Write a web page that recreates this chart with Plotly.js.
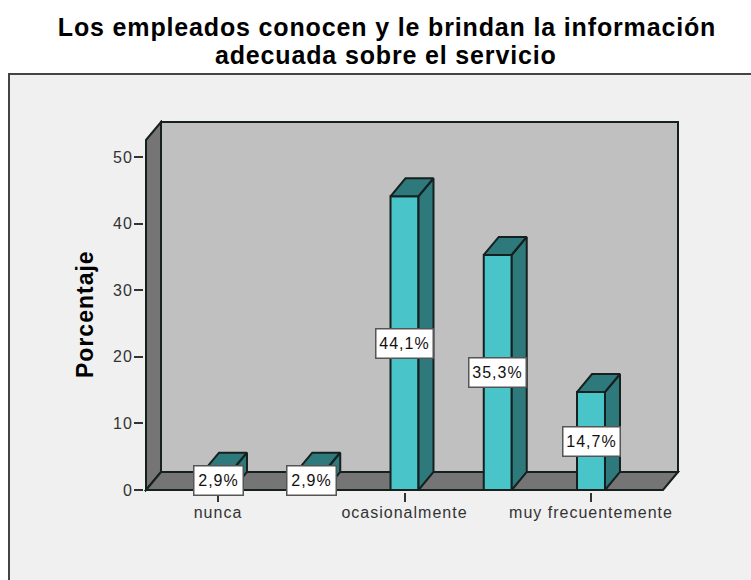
<!DOCTYPE html>
<html><head><meta charset="utf-8">
<script src="https://cdn.plot.ly/plotly-3.0.1.min.js"></script>
<style>html,body{margin:0;padding:0;background:#fff;overflow:hidden}
.xtick text,.ytick text,.annotation text{letter-spacing:1px}
.gtitle,.annotation[data-index="5"] text{letter-spacing:.85px}
</style>
</head><body><div id="chart" style="width:751px;height:580px"></div>
<script>
var categories = [1, 2, 3, 4, 5];
var percentages = [2.9, 2.9, 44.1, 35.3, 14.7];
var barLabels = ["2,9%", "2,9%", "44,1%", "35,3%", "14,7%"];
var tickPositions = [1, 3, 5];
var tickLabels = ["nunca", "ocasionalmente", "muy frecuentemente"];
var yTicks = [0, 10, 20, 30, 40, 50];
var titleLines = ["Los empleados conocen y le brindan la información", "adecuada sobre el servicio"];
var yTitle = "Porcentaje";

var pxPerCat = 93.25, pxPerPct = 6.66, x1Px = 218, y0Px = 490;
var L = 144, R = 680, T = 120, B = 492, W = 751, H = 580;
function X(px){ return 1 + (px - x1Px) / pxPerCat; }
function Y(px){ return (y0Px - px) / pxPerPct; }
function PX(px){ return (px - L) / (R - L); }
function PY(px){ return (B - px) / (B - T); }
function path(pts){
  return pts.map(function(p,i){ return (i ? "L" : "M") + X(p[0]) + "," + Y(p[1]); }).join(" ") + " Z";
}
var barW = 0.3, dX = 15 / pxPerCat, dY = 18 / pxPerPct;
var edge = "#15201f", sideCol = "#2e797b", frontCol = "#49c4c9";
var sans = "Liberation Sans, Arial, sans-serif";

var sx = [], sy = [];
categories.forEach(function(c, i){
  var v = percentages[i], r = c + barW / 2, l = c - barW / 2;
  sx.push(r, r + dX, r + dX, r, r, null);
  sy.push(0, dY, v + dY, v, 0, null);
  sx.push(l, l + dX, r + dX, r, l, null);
  sy.push(v, v + dY, v + dY, v, v, null);
});

var traces = [
  { type: "bar", x: categories, y: percentages, width: barW,
    marker: { color: frontCol, line: { color: edge, width: 2 } }, hoverinfo: "skip" },
  { type: "scatter", mode: "lines", x: sx, y: sy, fill: "toself", fillcolor: sideCol,
    line: { color: edge, width: 2 }, hoverinfo: "skip" }
];

var annotations = categories.map(function(c, i){
  return { x: c, y: percentages[i] / 2, xref: "x", yref: "y", text: barLabels[i], showarrow: false,
    xanchor: "center", yanchor: "middle", align: "center", valign: "middle",
    width: 8 * barLabels[i].length + 12, height: 24,
    bgcolor: "#ffffff", bordercolor: "#555555", borderwidth: 1.5, borderpad: 2,
    font: { family: sans, size: 16, color: "#111" } };
});
annotations.push({ xref: "paper", yref: "paper", x: PX(386), y: PY(71), xanchor: "center", yanchor: "bottom",
  text: titleLines[1], showarrow: false, font: { family: sans, size: 25, color: "#000", weight: 700 } });
annotations.push({ xref: "paper", yref: "paper", x: PX(85), y: PY(314), xanchor: "center", yanchor: "middle", textangle: -90,
  text: yTitle, showarrow: false, font: { family: sans, size: 23, color: "#000", weight: 700 } });

var shapes = [
  { type: "rect", layer: "below", xref: "paper", yref: "paper", x0: PX(9), x1: PX(770), y0: PY(74), y1: PY(600),
    fillcolor: "#f0f0f0", line: { color: "#444", width: 2 } },
  { type: "path", layer: "below", xref: "x", yref: "y", path: path([[161,122],[678,122],[678,472],[161,472]]),
    fillcolor: "#c0c0c0", line: { color: edge, width: 2 } },
  { type: "path", layer: "below", xref: "x", yref: "y", path: path([[146,140],[161,122],[161,472],[146,490]]),
    fillcolor: "#757575", line: { color: edge, width: 2 } },
  { type: "path", layer: "below", xref: "x", yref: "y", path: path([[146,490],[161,472],[678,472],[663,490]]),
    fillcolor: "#757575", line: { color: edge, width: 2 } }
];

var layout = {
  width: W, height: H, margin: { l: L, r: W - R, t: T, b: H - B, pad: 0 },
  paper_bgcolor: "#ffffff", plot_bgcolor: "rgba(0,0,0,0)", showlegend: false, bargap: 0,
  title: { text: titleLines[0],
    font: { family: sans, size: 25, color: "#000", weight: 700 },
    x: 387 / W, xanchor: "center", y: 1 - 18 / H, yanchor: "top" },
  xaxis: { range: [X(L), X(R)], tickmode: "array", tickvals: tickPositions, ticktext: tickLabels,
    ticks: "outside", ticklen: 9, tickwidth: 2, tickcolor: "#333", showgrid: false, zeroline: false, showline: false,
    ticklabelstandoff: -3,
    tickfont: { family: sans, size: 16, color: "#333" } },
  yaxis: { range: [Y(B), Y(T)], tickmode: "array", tickvals: yTicks, ticktext: yTicks.map(String),
    ticks: "outside", ticklen: 9, tickwidth: 2, tickcolor: "#333", showgrid: false, zeroline: false, showline: false,
    ticklabelstandoff: -2,
    tickfont: { family: sans, size: 16, color: "#333" } },
  shapes: shapes, annotations: annotations
};
Plotly.newPlot("chart", traces, layout, { displayModeBar: false, staticPlot: true });
</script></body></html>
